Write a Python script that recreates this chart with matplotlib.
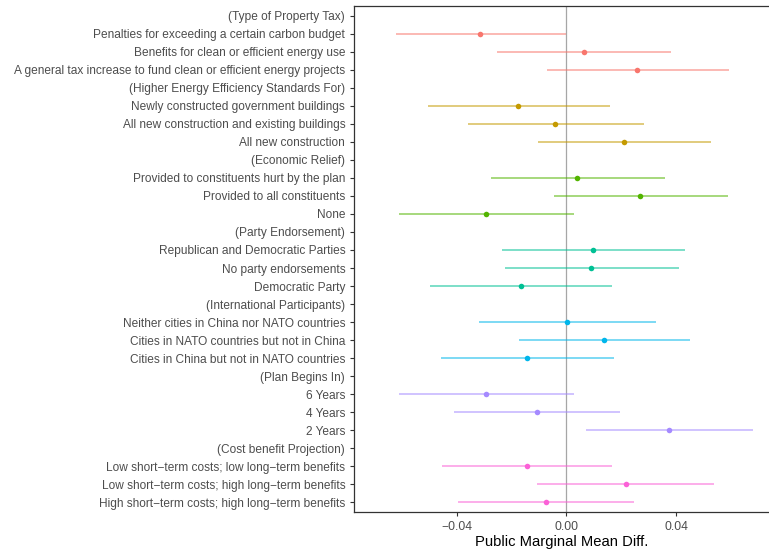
import numpy as np
import matplotlib
matplotlib.use("Agg")
import matplotlib.pyplot as plt

plt.rcParams['font.family'] = ['Liberation Sans', 'DejaVu Sans']

# attribute groups (header rows) and their levels, top to bottom
group_names = ["(Type of Property Tax)", "(Higher Energy Efficiency Standards For)",
               "(Economic Relief)", "(Party Endorsement)",
               "(International Participants)", "(Plan Begins In)",
               "(Cost benefit Projection)"]
levels = [
    ["Penalties for exceeding a certain carbon budget",
     "Benefits for clean or efficient energy use",
     "A general tax increase to fund clean or efficient energy projects"],
    ["Newly constructed government buildings",
     "All new construction and existing buildings",
     "All new construction"],
    ["Provided to constituents hurt by the plan",
     "Provided to all constituents",
     "None"],
    ["Republican and Democratic Parties",
     "No party endorsements",
     "Democratic Party"],
    ["Neither cities in China nor NATO countries",
     "Cities in NATO countries but not in China",
     "Cities in China but not in NATO countries"],
    ["6 Years", "4 Years", "2 Years"],
    ["Low short\u2212term costs; low long\u2212term benefits",
     "Low short\u2212term costs; high long\u2212term benefits",
     "High short\u2212term costs; high long\u2212term benefits"],
]
estimates = [
    [-0.0313, 0.0063, 0.0258],
    [-0.0175, -0.0040, 0.0208],
    [0.0040, 0.0268, -0.0292],
    [0.0097, 0.0090, -0.0167],
    [0.0001, 0.0138, -0.0143],
    [-0.0293, -0.0109, 0.0373],
    [-0.0145, 0.0215, -0.0074],
]
lower = [
    [-0.0621, -0.0253, -0.0072],
    [-0.0504, -0.0359, -0.0103],
    [-0.0276, -0.0046, -0.0610],
    [-0.0234, -0.0224, -0.0496],
    [-0.0318, -0.0171, -0.0456],
    [-0.0610, -0.0409, 0.0070],
    [-0.0453, -0.0108, -0.0393],
]
upper = [
    [-0.0003, 0.0382, 0.0591],
    [0.0157, 0.0282, 0.0527],
    [0.0360, 0.0587, 0.0029],
    [0.0431, 0.0408, 0.0165],
    [0.0324, 0.0451, 0.0173],
    [0.0028, 0.0193, 0.0680],
    [0.0167, 0.0538, 0.0247],
]
colors = ["#F8766D", "#C49A00", "#53B400", "#00C094", "#00B6EB", "#A58AFF", "#FB61D7"]

fig = plt.figure(figsize=(7.69, 5.52), dpi=100)
ax = fig.add_axes([0.4597, 0.0719, 0.5403, 0.9178])

tick_labels = []
row = 0
for g, name in enumerate(group_names):
    tick_labels.append(name)
    row += 1
    for lab, est, lo, hi in zip(levels[g], estimates[g], lower[g], upper[g]):
        ax.plot([lo, hi], [row, row], color=colors[g], lw=1.2, alpha=0.6,
                solid_capstyle="butt", zorder=2)
        ax.plot(est, row, "o", color=colors[g], ms=4, mec="none", zorder=3)
        tick_labels.append(lab)
        row += 1

ax.axvline(0, color="#a6a6a6", lw=0.9, zorder=1)

ax.set_yticks(np.arange(len(tick_labels)))
ax.set_yticklabels(tick_labels, fontsize=8.6, color="#4d4d4d")
ax.set_ylim(len(tick_labels) - 1 + 0.57, -0.57)
ax.set_xlim(-0.0775, 0.0737)
ax.set_xticks([-0.04, 0.0, 0.04])
ax.set_xticklabels(["\u22120.04", "0.00", "0.04"], fontsize=8.7, color="#4d4d4d")
ax.set_xlabel("Public Marginal Mean Diff.", fontsize=10.6, labelpad=2)
ax.tick_params(length=3, width=0.8, color="#333333", pad=3)
ax.spines["right"].set_visible(False)
for s in ax.spines.values():
    s.set_color("#333333")
    s.set_linewidth(0.9)

fig.savefig("out.png", dpi=100)
